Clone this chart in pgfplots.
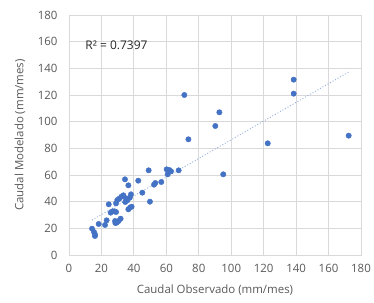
\documentclass[border=0pt]{standalone}
\usepackage{pgfplots}
\pgfplotsset{compat=1.18}
\usepackage{fontspec}
\setmainfont{Open Sans}
\usetikzlibrary{calc}
\definecolor{tickgray}{HTML}{595959}
\definecolor{gridgray}{HTML}{D9D9D9}
\definecolor{dotblue}{HTML}{4472C4}
\definecolor{trendblue}{HTML}{8FAADC}
\pgfplotstableread{
x y
14.2 19.75
15.4 17.25
16 14.25
16 15.5
18.3 23.25
22.2 22.5
23.2 26
24.5 38
25.7 31.75
26.9 32.75
28.1 32.75
29 32.25
28.4 25.5
28.6 24.0
29.4 24.25
30.6 25.5
31.8 27.25
29 38.75
29.8 41.25
31 42.25
32.3 43.75
33.5 44.75
34.5 56.75
34.7 39.75
35.1 42.5
36.0 41.0
36.6 52.25
36.6 34.25
37.6 35.5
37.5 43.0
38.2 45.5
38.6 36.25
42.7 55.75
45.2 46.75
49.1 63.5
49.9 40
52.4 52.75
53.2 54
56.9 54.75
60.2 64.25
60.8 60.5
61.8 63.75
62.9 62.75
67.6 63.5
71.1 120
73.6 86.75
90.2 96.75
92.7 107
95.1 60.5
122.5 83.75
138.5 131.5
138.5 121
172.4 89.5
}\datatable
\begin{document}
\begin{tikzpicture}
\begin{axis}[
  scale only axis, width=292bp, height=240bp,
  xmin=0, xmax=180, ymin=0, ymax=180,
  xtick distance=20, ytick distance=20,
  grid=major, major grid style={gridgray, line width=0.8bp},
  axis line style={gridgray, line width=0.8bp},
  major tick length=0pt,
  tick label style={font=\fontsize{11.5}{13}\selectfont, text=tickgray},
  /pgf/number format/assume math mode=true,
  xticklabel style={yshift=-6bp},
  yticklabel style={xshift=-8bp},
  xlabel={Caudal Observado (mm/mes)},
  ylabel={Caudal Modelado (mm/mes)},
  label style={font=\fontsize{11.5}{13}\selectfont, text=tickgray},
  xlabel style={at={(axis description cs:0.5,-0.146)}, anchor=center},
  ylabel style={at={(axis description cs:-0.168,0.5)}, anchor=center, rotate=0},
  clip=false,
]
\addplot[trendblue, dotted, line width=0.9bp] coordinates {(14.2,26.25) (172.4,137.2)};
\addplot[only marks, mark=*, mark size=2.7bp, dotblue, mark options={draw=dotblue, fill=dotblue}] table[x=x,y=y] {\datatable};
\node[anchor=west, font=\fontsize{12}{14}\selectfont, text=black!85] at (axis cs:8,157.5) {R² = 0.7397};
\end{axis}
\pgfresetboundingbox
\path[use as bounding box] ($(current axis.south west)+(-69bp,-48bp)$) rectangle ($(current axis.north east)+(13bp,15bp)$);
\end{tikzpicture}
\end{document}
